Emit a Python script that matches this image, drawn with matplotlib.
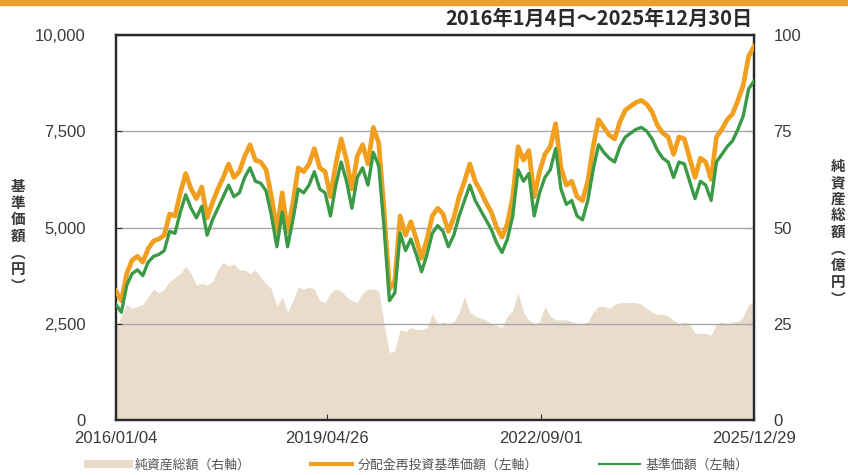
import matplotlib
matplotlib.use('Agg')
import matplotlib.pyplot as plt
import matplotlib.patches as mpatches
from matplotlib.lines import Line2D
import matplotlib.ticker as mtick
import pandas as pd

# monthly readings, 2016/01 .. 2025/12
nav = [
    3000, 2800, 3500, 3800, 3900, 3750, 4100, 4250, 4300, 4400, 4900, 4850,
    5400, 5850, 5500, 5250, 5550, 4800, 5200, 5500, 5800, 6100, 5800, 5900,
    6300, 6550, 6200, 6150, 5950, 5300, 4500, 5400, 4500, 5200, 6000, 5900,
    6100, 6450, 6000, 5900, 5300, 6100, 6700, 6200, 5500, 6300, 6550, 6100,
    6950, 6600, 5000, 3100, 3300, 4850, 4400, 4700, 4300, 3850, 4300, 4850,
    5050, 4900, 4500, 4800, 5300, 5700, 6100, 5700, 5450, 5200, 4950, 4600,
    4350, 4700, 5300, 6500, 6200, 6400, 5300, 5900, 6300, 6500, 7050, 6000,
    5600, 5700, 5300, 5200, 5700, 6500, 7150, 6950, 6800, 6700, 7100, 7350,
    7450, 7550, 7600, 7500, 7300, 7000, 6800, 6700, 6300, 6700, 6650, 6200,
    5750, 6200, 6100, 5700, 6700, 6900, 7100, 7250, 7550, 7900, 8600, 8800,
]
nav_reinv = [
    3350, 3100, 3800, 4150, 4250, 4100, 4450, 4650, 4700, 4800, 5350, 5300,
    5900, 6400, 6000, 5750, 6050, 5250, 5650, 6000, 6300, 6650, 6300, 6450,
    6850, 7150, 6750, 6700, 6500, 5800, 4900, 5900, 4900, 5650, 6550, 6450,
    6650, 7050, 6550, 6450, 5800, 6650, 7300, 6750, 6000, 6850, 7150, 6650,
    7600, 7200, 5450, 3400, 3600, 5300, 4800, 5150, 4700, 4200, 4700, 5300,
    5500, 5350, 4900, 5250, 5800, 6200, 6650, 6200, 5950, 5650, 5400, 5000,
    4750, 5100, 5800, 7100, 6750, 7000, 5800, 6450, 6900, 7100, 7700, 6550,
    6100, 6200, 5800, 5700, 6200, 7100, 7800, 7600, 7400, 7300, 7750, 8050,
    8150, 8250, 8300, 8200, 8000, 7650, 7450, 7350, 6900, 7350, 7300, 6800,
    6300, 6800, 6700, 6250, 7350, 7550, 7800, 7950, 8300, 8700, 9450, 9700,
]
net_assets = [
    24, 27, 30, 29, 29.5, 30, 32, 34, 33, 34, 36, 37,
    38, 40, 38, 35, 35.5, 35, 36, 39, 41, 40, 40.5, 39,
    39, 38, 39, 37, 35.5, 34, 29.5, 32, 28, 31, 34.5, 34,
    34.5, 34, 31, 30.5, 33, 34, 33.5, 32, 31, 30.5, 33, 34,
    34, 33.5, 25, 17.5, 18, 23.5, 23, 24, 23.5, 23.5, 24, 27.5,
    25, 25.5, 25, 25.5, 28, 32, 28, 27, 26.5, 26, 25, 24.5,
    24, 27, 28.5, 33, 28, 26, 25, 25.5, 29.5, 27, 26, 26,
    26, 25.5, 25, 25, 25.5, 28, 29.5, 29.5, 29, 30, 30.5, 30.5,
    30.5, 30.5, 30, 29, 28, 27.5, 27.5, 27, 26, 25, 25.5, 25,
    22.5, 22.5, 22.5, 22, 25, 25.5, 25, 25.5, 25.5, 27, 30, 31,
]
dates = pd.date_range(start='2016-01-04', end='2025-12-30', periods=len(nav))

tick_dates = pd.to_datetime(['2016-01-04', '2019-04-26', '2022-09-01', '2025-12-29'])
tick_labels = ['2016/01/04', '2019/04/26', '2022/09/01', '2025/12/29']

num_font = ['Liberation Sans', 'Noto Sans CJK JP']
jp_font = ['Noto Sans CJK JP', 'DejaVu Sans']
txt_color = '#3a3a3a'

beige = '#e9dccb'
orange = '#f0a01e'
green = '#3a9a46'

fig = plt.figure(figsize=(8.48, 4.75), dpi=100)
ax = fig.add_axes([116 / 848, 55 / 475, 638 / 848, 385 / 475])
ax2 = ax.twinx()

# net assets behind, lines + grid in front
ax2.fill_between(dates, net_assets, 0, color=beige, lw=0)
ax2.set_ylim(0, 100)
ax.set_zorder(ax2.get_zorder() + 1)
ax.patch.set_visible(False)

ax.plot(dates, nav_reinv, color=orange, lw=3.4, zorder=3, solid_joinstyle='round')
ax.plot(dates, nav, color=green, lw=2.4, zorder=4, solid_joinstyle='round')

ax.set_ylim(0, 10000)
ax.set_xlim(pd.Timestamp('2016-01-04'), pd.Timestamp('2025-12-30'))
ax.set_yticks([0, 2500, 5000, 7500, 10000])
ax.yaxis.set_major_formatter(mtick.StrMethodFormatter('{x:,.0f}'))
ax2.set_yticks([0, 25, 50, 75, 100])
ax.set_xticks(tick_dates)
ax.set_xticklabels(tick_labels)
ax.grid(axis='y', color='#a8a8a8', lw=1.0, zorder=1)

for a in (ax, ax2):
    for s in a.spines.values():
        s.set_color('#2a2a2a')
        s.set_linewidth(1.6)
ax.tick_params(axis='both', direction='in', length=4, color='#2a2a2a',
               labelcolor=txt_color, labelsize=12)
ax.tick_params(axis='y', pad=22)
ax.tick_params(axis='x', pad=8)
ax2.tick_params(axis='y', direction='in', length=4, color='#2a2a2a',
                labelcolor=txt_color, labelsize=12, pad=14)
for lab in ax.get_xticklabels() + ax.get_yticklabels() + ax2.get_yticklabels():
    lab.set_family(num_font)

# stacked vertical axis titles
fig.text(18 / 848, 1 - 236 / 475, '\n'.join('基準価額︵円︶'), family=jp_font,
         fontsize=10.5, color=txt_color, ha='center', va='center', linespacing=1.05,
         fontweight='bold')
fig.text(838 / 848, 1 - 232 / 475, '\n'.join('純資産総額︵億円︶'), family=jp_font,
         fontsize=10.5, color=txt_color, ha='center', va='center', linespacing=1.05,
         fontweight='bold')

fig.text(752 / 848, 1 - 18 / 475, '2016年1月4日～2025年12月30日', family=jp_font,
         fontsize=14.5, color='#2a2a2a', ha='right', va='center', fontweight='bold')

# orange band across the top
fig.patches.append(mpatches.Rectangle((0, 1 - 5 / 475), 1, 5 / 475, transform=fig.transFigure,
                                      color='#e8a030', zorder=0))

handles = [
    Line2D([], [], color=beige, lw=6),
    Line2D([], [], color=orange, lw=3),
    Line2D([], [], color=green, lw=1.6),
]
labels = ['純資産総額（右軸）', '分配金再投資基準価額（左軸）', '基準価額（左軸）']
leg = fig.legend(handles, labels, loc='center', bbox_to_anchor=(418 / 848, 10 / 475), ncol=3,
                 frameon=False, handlelength=3.2, handletextpad=0.4, columnspacing=4.7,
                 prop={'family': jp_font, 'size': 9.3})
for t in leg.get_texts():
    t.set_color('#555555')

fig.savefig('out.png', dpi=100)
